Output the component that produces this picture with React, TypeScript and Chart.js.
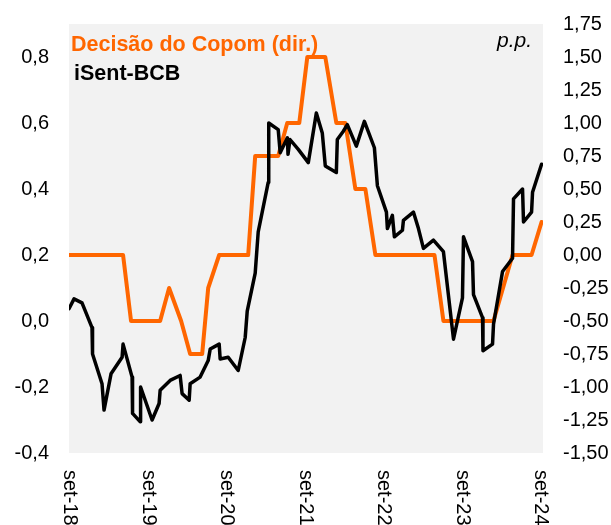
import React, { useEffect, useRef } from "react";
import { Chart, registerables } from "chart.js";

Chart.register(...registerables);

// months since Sep-2018
const isentMonths = [0, 0.77, 1.99, 3.52, 3.6, 5.05, 5.36, 6.43, 8.12, 8.27, 9.65, 9.72, 10.87, 10.95, 12.71, 13.78, 13.94, 15.47, 17.0, 17.3, 18.38, 18.53, 20.06, 21.29, 21.6, 22.97, 23.12, 24.35, 25.88, 26.95, 27.26, 28.48, 28.94, 30.47, 30.55, 32.0, 32.3, 33.4, 33.5, 33.8, 35.07, 36.6, 37.83, 38.74, 39.2, 40.89, 41.04, 41.96, 42.57, 43.95, 45.18, 46.71, 47.17, 48.55, 48.7, 49.46, 49.77, 51.0, 51.15, 52.68, 53.45, 54.21, 55.74, 57.27, 58.81, 60.18, 60.34, 61.72, 61.87, 63.25, 63.32, 64.78, 64.93, 66.31, 67.84, 67.99, 69.37, 69.52, 70.75, 70.9, 72.28];
const isentValues = [0.037, 0.067, 0.055, -0.02, -0.10, -0.19, -0.27, -0.16, -0.11, -0.07, -0.17, -0.28, -0.305, -0.20, -0.30, -0.25, -0.21, -0.18, -0.165, -0.22, -0.24, -0.19, -0.17, -0.12, -0.085, -0.07, -0.115, -0.11, -0.15, -0.05, 0.03, 0.145, 0.27, 0.42, 0.60, 0.58, 0.51, 0.555, 0.505, 0.55, 0.52, 0.48, 0.63, 0.57, 0.47, 0.45, 0.55, 0.575, 0.595, 0.53, 0.605, 0.525, 0.41, 0.33, 0.28, 0.32, 0.255, 0.275, 0.305, 0.33, 0.28, 0.22, 0.245, 0.21, -0.055, 0.07, 0.255, 0.18, 0.08, 0.01, -0.09, -0.07, -0.01, 0.15, 0.19, 0.37, 0.40, 0.30, 0.33, 0.39, 0.475];

const copomMonths = [0, 8.27, 9.49, 13.94, 15.31, 17.15, 18.53, 20.37, 21.29, 22.97, 27.41, 28.48, 32.0, 33.38, 35.22, 36.45, 39.2, 40.89, 42.27, 43.8, 45.33, 46.86, 55.9, 57.27, 64.93, 67.84, 70.75, 72.28];
const copomValues = [0, 0, -0.5, -0.5, -0.25, -0.5, -0.75, -0.75, -0.25, 0, 0, 0.75, 0.75, 1.0, 1.0, 1.5, 1.5, 1.0, 1.0, 0.5, 0.5, 0, 0, -0.5, -0.5, 0, 0, 0.25];

const xTickMonths = [0, 12, 24, 36, 48, 60, 72];
const xTickLabels = ["set-18", "set-19", "set-20", "set-21", "set-22", "set-23", "set-24"];

const seriesNames = ["iSent-BCB", "Decisão do Copom (dir.)"];
const unitLabel = "p.p.";

const FONT = "'Liberation Sans', Arial, sans-serif";
const ORANGE = "#FF6600";

export default function App() {
  const ref = useRef<HTMLCanvasElement | null>(null);

  useEffect(() => {
    const canvas = ref.current;
    if (!canvas) return;

    const bgPlugin = {
      id: "bgPlugin",
      beforeDraw(chart: any) {
        const { ctx, chartArea } = chart;
        ctx.save();
        ctx.fillStyle = "#F2F2F2";
        ctx.fillRect(chartArea.left, chartArea.top, chartArea.right - chartArea.left, chartArea.bottom - chartArea.top);
        ctx.restore();
      },
      afterDraw(chart: any) {
        const { ctx, chartArea } = chart;
        const xs = chart.scales.x;
        ctx.save();
        ctx.fillStyle = "#000";
        ctx.font = `20px ${FONT}`;
        ctx.textAlign = "left";
        ctx.textBaseline = "middle";
        xTickMonths.forEach((m, i) => {
          const px = xs.getPixelForValue(m);
          ctx.save();
          ctx.translate(px + 1, chartArea.bottom + 17);
          ctx.rotate(Math.PI / 2);
          ctx.fillText(xTickLabels[i], 0, 0);
          ctx.restore();
        });
        // legend texts
        ctx.textBaseline = "alphabetic";
        ctx.font = `bold 21.5px ${FONT}`;
        ctx.fillStyle = ORANGE;
        ctx.fillText(seriesNames[1], 71, 51);
        ctx.fillStyle = "#000";
        ctx.fillText(seriesNames[0], 74, 80);
        ctx.font = `italic 21px ${FONT}`;
        ctx.textAlign = "right";
        ctx.fillText(unitLabel, 532, 47);
        ctx.restore();
      },
    };

    const chart = new Chart(canvas, {
      type: "line",
      data: {
        datasets: [
          {
            label: seriesNames[0],
            data: isentMonths.map((m, i) => ({ x: m, y: isentValues[i] })),
            borderColor: "#000000",
            backgroundColor: "#000000",
            borderWidth: 3.5,
            pointRadius: 0,
            tension: 0,
            borderJoinStyle: "round",
            borderCapStyle: "round",
            yAxisID: "y",
          },
          {
            label: seriesNames[1],
            data: copomMonths.map((m, i) => ({ x: m, y: copomValues[i] })),
            borderColor: ORANGE,
            backgroundColor: ORANGE,
            borderWidth: 4,
            pointRadius: 0,
            tension: 0,
            borderJoinStyle: "round",
            borderCapStyle: "round",
            yAxisID: "y1",
          },
        ],
      },
      options: {
        responsive: false,
        animation: false,
        layout: { padding: { top: 24, bottom: 72, left: 0, right: 0 } },
        plugins: {
          legend: { display: false },
          tooltip: { enabled: false },
          title: { display: false },
        },
        scales: {
          x: {
            type: "linear",
            min: 0,
            max: 72.5,
            display: false,
          },
          y: {
            position: "left",
            min: -0.4,
            max: 0.9,
            grid: { display: false, drawTicks: false },
            border: { display: false },
            afterBuildTicks: (axis: any) => {
              axis.ticks = axis.ticks.filter((t: any) => t.value <= 0.8 + 1e-9);
            },
            afterFit: (scale: any) => {
              scale.width = 69;
              scale.paddingTop = 0;
              scale.paddingBottom = 0;
            },
            ticks: {
              stepSize: 0.2,
              padding: 20,
              color: "#000",
              font: { family: FONT, size: 20 },
              callback: (v: any) => {
                const n = Math.abs(Number(v)) < 1e-9 ? 0 : Number(v);
                return n.toFixed(1).replace(".", ",");
              },
            },
          },
          y1: {
            position: "right",
            min: -1.5,
            max: 1.75,
            grid: { display: false, drawTicks: false },
            border: { display: false },
            afterFit: (scale: any) => {
              scale.width = 68;
              scale.paddingTop = 0;
              scale.paddingBottom = 0;
            },
            ticks: {
              stepSize: 0.25,
              padding: 20,
              color: "#000",
              font: { family: FONT, size: 20 },
              callback: (v: any) => {
                const n = Math.abs(Number(v)) < 1e-9 ? 0 : Number(v);
                return n.toFixed(2).replace(".", ",");
              },
            },
          },
        },
      },
      plugins: [bgPlugin],
    } as any);

    return () => chart.destroy();
  }, []);

  return (
    <div style={{ position: "fixed", left: 0, top: 0, width: 611, height: 525, background: "#fff" }}>
      <canvas ref={ref} width={611} height={525} style={{ display: "block" }} />
    </div>
  );
}
